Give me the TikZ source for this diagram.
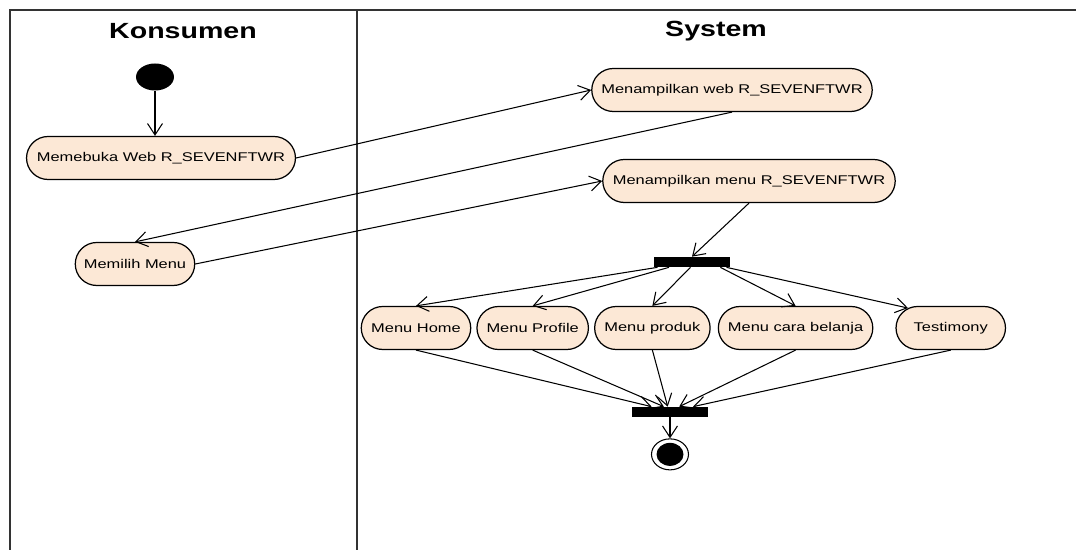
\documentclass[tikz,border=0pt]{standalone}
\usepackage{fontspec}
\setmainfont{Liberation Sans}[FakeStretch=1.3]
\usepackage{xcolor}
\usepackage{tikz}
\usetikzlibrary{arrows.meta,positioning,shapes.geometric,shapes.misc,calc}
\definecolor{actfill}{RGB}{252,232,214}

\begin{document}
\begin{tikzpicture}[
    x=0.02cm, y=-0.02cm,
    >={Straight Barb[length=6.5pt,width=8.5pt]},
    act/.style={rounded rectangle, draw, line width=0.7pt, fill=actfill,
                minimum height=0.86cm, inner sep=1pt,
                font=\fontsize{7.2}{8.6}\selectfont},
    bar/.style={fill=black, inner sep=0pt, minimum width=1.52cm,
                minimum height=0.2cm},
    lane/.style={font=\fontsize{12.5}{15}\selectfont\bfseries},
    flow/.style={->, line width=0.6pt}
]
    \useasboundingbox (0,0) rectangle (1076,550);

    % Swimlanes
    \draw[line width=0.9pt, black!80] (10,550) -- (10,10) -- (1076,10);
    \draw[line width=0.9pt, black!80] (357,10) -- (357,550);
    \node[lane] (konsumen) at (183,31) {Konsumen};
    \node[lane] (system)   at (716,31) {System};

    % Konsumen
    \node[ellipse, fill=black, inner sep=0pt, minimum width=0.76cm,
          minimum height=0.54cm] (start) at (155,77) {};
    \node[act, minimum width=5.45cm] (buka)  at (161,158) {Memebuka Web R\_SEVENFTWR};
    \node[act, minimum width=2.46cm] (pilih) at (135,264) {Memilih Menu};

    % System
    \node[act, minimum width=5.68cm] (webtampil)  at (732,90)  {Menampilkan web R\_SEVENFTWR};
    \node[act, minimum width=5.92cm] (menutampil) at (749,181) {Menampilkan menu R\_SEVENFTWR};
    \node[bar] (fork) at (692,262) {};

    \node[act, minimum width=2.26cm] (home) at (416,328) {Menu Home};
    \node[act, minimum width=2.3cm, right=0.1cm of home]     (profile)   {Menu Profile};
    \node[act, minimum width=2.38cm, right=0.1cm of profile] (produk)    {Menu produk};
    \node[act, minimum width=3.16cm, right=0.14cm of produk] (cara)      {Menu cara belanja};
    \node[act, minimum width=2.26cm, right=0.44cm of cara]   (testimony) {Testimony};

    \node[bar] (join) at (670,412) {};
    \node[ellipse, draw, line width=0.6pt, inner sep=0pt, minimum width=0.74cm,
          minimum height=0.62cm, below=0.42cm of join] (end) {};
    \node[ellipse, fill=black, inner sep=0pt, minimum width=0.54cm,
          minimum height=0.46cm] (endin) at (end) {};

    % Konsumen <-> System
    \draw[flow] (start) -- (start |- buka.north);
    \draw[flow] (buka.east) -- (webtampil.west);
    \draw[flow] (webtampil.south) -- (pilih.north);
    \draw[flow] (pilih.east) -- (menutampil.west);
    \draw[flow] (menutampil.south) -- (fork.north);

    % Fork to menus
    \draw[flow] ($(fork.south west)!0.05!(fork.south east)$) -- (home.north);
    \draw[flow] ($(fork.south west)!0.2!(fork.south east)$)  -- (profile.north);
    \draw[flow] ($(fork.south west)!0.48!(fork.south east)$) -- (produk.north);
    \draw[flow] ($(fork.south west)!0.87!(fork.south east)$) -- (cara.north);
    \draw[flow] ($(fork.south west)!0.95!(fork.south east)$) -- (testimony.155);

    % Menus to join
    \draw[flow] (home.south)      -- ($(join.north west)!0.26!(join.north east)$);
    \draw[flow] (profile.south)   -- ($(join.north west)!0.42!(join.north east)$);
    \draw[flow] (produk.south)    -- ($(join.north west)!0.47!(join.north east)$);
    \draw[flow] (cara.south)      -- ($(join.north west)!0.62!(join.north east)$);
    \draw[flow] (testimony.south) -- ($(join.north west)!0.8!(join.north east)$);
    \draw[flow] (join) -- (end);
\end{tikzpicture}
\end{document}
